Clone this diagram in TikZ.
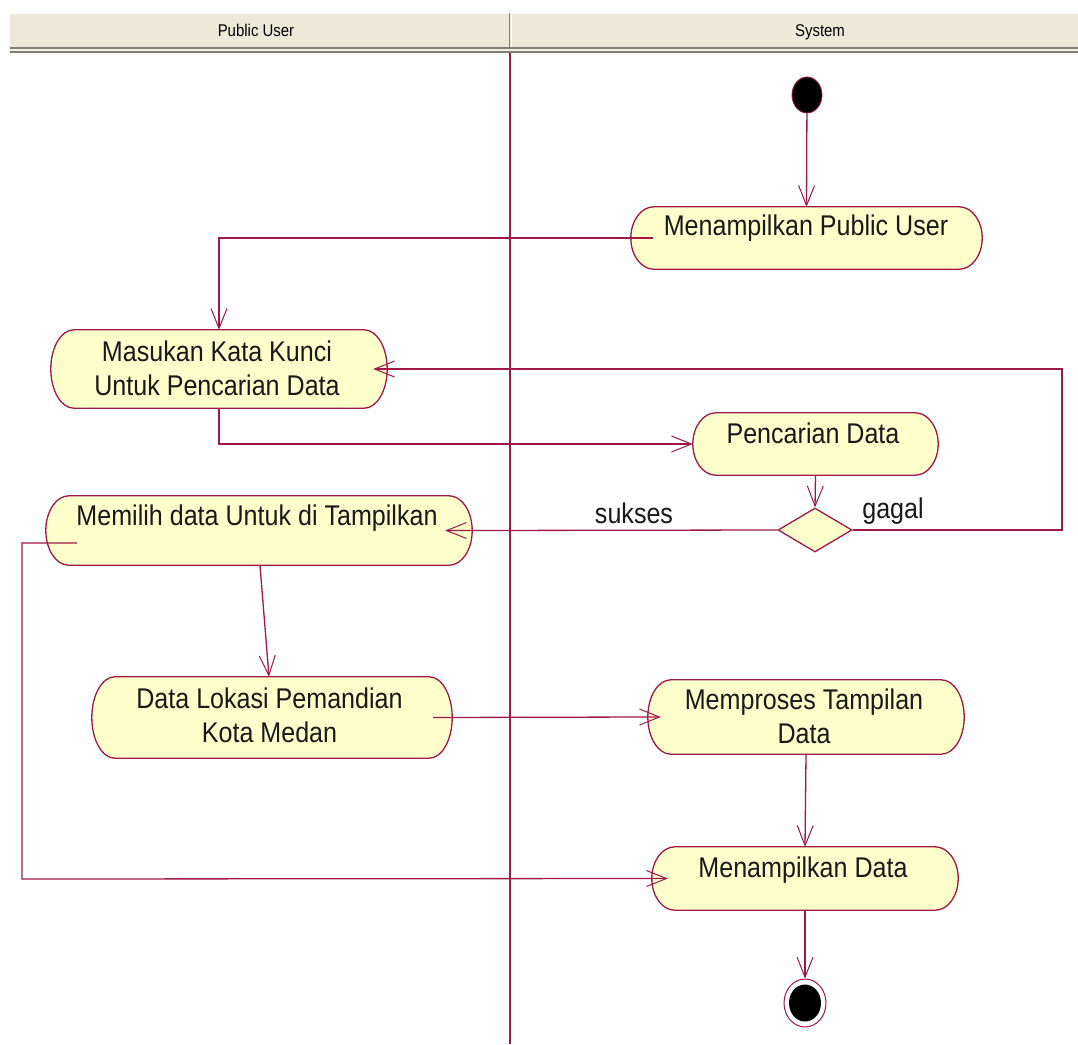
\documentclass[tikz,border=0pt]{standalone}
\usepackage{fontspec}
\setmainfont{Liberation Sans}
\newfontfamily\actfont[FakeStretch=0.88]{Liberation Sans}
\usetikzlibrary{arrows.meta,shapes.geometric,calc}
\definecolor{umlline}{RGB}{160,24,72}
\definecolor{umlfill}{RGB}{255,255,204}
\definecolor{hdrbg}{RGB}{236,233,216}
\definecolor{hdrdark}{RGB}{128,128,118}
\definecolor{txt}{RGB}{25,25,25}
\newcommand\actshape[2][23pt]{%
  \filldraw[actline] let \p1=(#2.north west), \p2=(#2.south east), \n1={(\y1-\y2)/2} in
    (\x1+#1,\y1) -- (\x2-#1,\y1)
    arc[start angle=90,end angle=-90,x radius=#1,y radius=\n1]
    -- (\x1+#1,\y2)
    arc[start angle=270,end angle=90,x radius=#1,y radius=\n1] -- cycle;}
\begin{document}
\begin{tikzpicture}[x=1pt,y=-1pt,
  act/.style={draw=none, fill=none, inner sep=0pt},
  actline/.style={draw=umlline, fill=umlfill, line width=1.3pt},
  acttext/.style={anchor=base, font=\actfont\fontsize{28.5}{34}\selectfont, text=txt, align=center, inner sep=0pt},
  hdrtext/.style={anchor=base, font=\actfont\fontsize{17}{20}\selectfont, text=black, inner sep=0pt},
  guardtext/.style={anchor=base, font=\actfont\fontsize{28.5}{34}\selectfont, text=txt, inner sep=0pt},
  flow/.style={draw=umlline, line width=1.3pt, -{Straight Barb[length=20pt,width=16pt,line width=1pt]}},
  lane/.style={draw=umlline, line width=1.3pt},
]
\useasboundingbox (0,0) rectangle (1078,1044);
\fill[white] (0,0) rectangle (1078,1044);
% header
\fill[hdrbg] (10,13) rectangle (1078,47);
\draw[white, line width=1pt] (10,13.5) -- (1078,13.5);
\fill[hdrdark] (10,47) rectangle (1078,53);
\draw[hdrbg!70!white, line width=1.2pt] (10,50) -- (1078,50);
\draw[hdrdark, line width=1.5pt] (509.5,13) -- (509.5,47);
\draw[white, line width=1pt] (511.5,13) -- (511.5,47);
\node[hdrtext] (hpu) at (256,36) {Public User};
\node[hdrtext] (hsys) at (820,36) {System};
% lane divider
\draw[lane] (510,53) -- (510,1044);

% nodes (frames)
\node[ellipse, draw=umlline, fill=black, line width=0.8pt, minimum width=30pt, minimum height=36pt, inner sep=0pt] (init) at (807,95) {};
\node[act, minimum width=351pt, minimum height=62pt] (mpu) at (806.5,238) {};
\node[act, minimum width=336pt, minimum height=78pt] (mkk) at (219,369) {};
\node[act, minimum width=245pt, minimum height=62pt] (pd) at (815.5,444) {};
\node[diamond, draw=umlline, fill=umlfill, line width=1.3pt, minimum width=74pt, minimum height=44pt, inner sep=0pt] (dec) at (815,530) {};
\node[act, minimum width=426pt, minimum height=69pt] (mem) at (259,530.5) {};
\node[act, minimum width=360pt, minimum height=81pt] (dl) at (272,717.5) {};
\node[act, minimum width=316pt, minimum height=74pt] (mtd) at (806,717) {};
\node[act, minimum width=306pt, minimum height=63pt] (md) at (805,878.5) {};
\node[ellipse, draw=umlline, fill=white, line width=1pt, minimum width=42pt, minimum height=48pt, inner sep=0pt] (fin) at (805,1003) {};
\node[ellipse, fill=black, minimum width=32pt, minimum height=37pt, inner sep=0pt] (fin-in) at (805,1003) {};

% activity outlines
\actshape{mpu}
\actshape{mkk}
\actshape{pd}
\actshape{mem}
\actshape{dl}
\actshape{mtd}
\actshape{md}

% texts
\node[acttext] (mpu-t) at (806,235) {Menampilkan Public User};
\node[acttext] (mkk-t) at (217,395) {Masukan Kata Kunci\\Untuk Pencarian Data};
\node[acttext] (pd-t) at (813,443) {Pencarian Data};
\node[acttext] (mem-t) at (257,525) {Memilih data Untuk di Tampilkan};
\node[acttext] (dl-t) at (269.5,742) {Data Lokasi Pemandian\\Kota Medan};
\node[acttext] (mtd-t) at (804,743) {Memproses Tampilan\\Data};
\node[acttext] (md-t) at (803,877) {Menampilkan Data};

% guards
\node[guardtext] (sukses) at (634,523) {sukses};
\node[guardtext] (gagal) at (893,518) {gagal};

% connectors
\coordinate (gk) at (1062,369);
\coordinate (lp) at (22,879);
\draw[flow] (init) -- (mpu.north);
\draw[flow] ([xshift=22pt]mpu.west) -| (mkk.north);
\draw[flow] (mkk.south) |- (pd.west);
\draw[flow] (pd.south) -- (dec.north);
\draw[flow, shorten >=-27pt] (dec.west) -- (mem.east);
\draw[flow, shorten >=-14pt] (dec.east) -| (gk) -- (mkk.east);
\draw[flow] ([xshift=1pt]mem.south) -- ([xshift=-3pt]dl.north);
\draw[flow, shorten >=-13pt] ([xshift=-19pt]dl.east) -- (mtd.west);
\draw[flow] (mtd.south) -- (md.north);
\draw[flow, shorten >=-16pt] ([xshift=31pt,yshift=-12.5pt]mem.west) -| (lp) -- (md.west);
\draw[flow] (md.south) -- (fin.north);
\end{tikzpicture}
\end{document}
